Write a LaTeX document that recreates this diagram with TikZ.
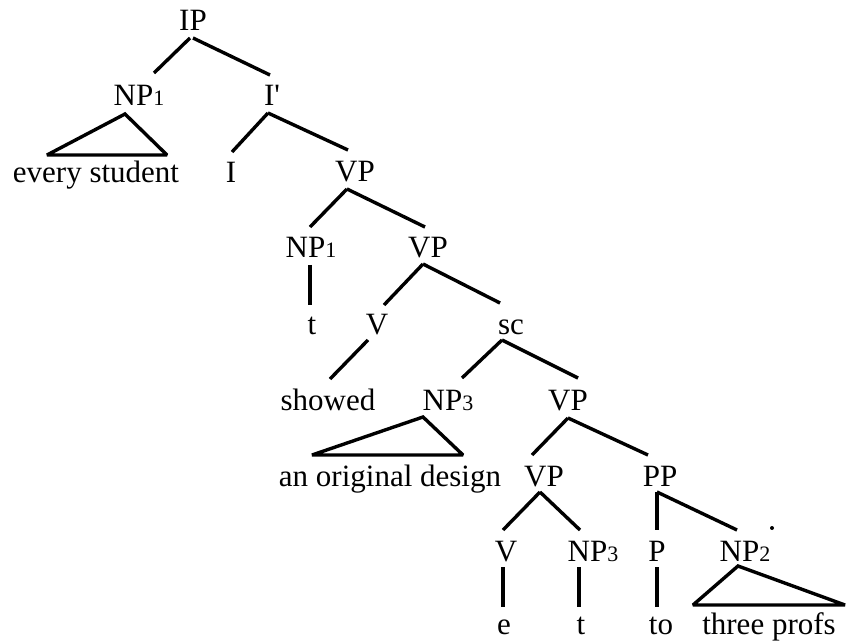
\documentclass[tikz,border=0pt]{standalone}
\usepackage{fontspec}
\setmainfont{Liberation Serif}
\newcommand\subd[1]{{\fontsize{22}{22}\selectfont #1}}
\begin{document}
\begin{tikzpicture}[x=1pt,y=-1pt,
  lab/.style={anchor=base,inner sep=0pt,font=\fontsize{31}{36}\selectfont},
  edge/.style={line width=3.4pt},
  tri/.style={line width=3.4pt,line join=miter,miter limit=2}]
\useasboundingbox (0,0) rectangle (848,644);
% nodes
\node[lab] (IP) at (193,31) {IP};
\node[lab] (NPa) at (139,106) {NP\subd{1}};
\node[lab] (Ibar) at (272,106) {I\textquotesingle};
\node[lab] (every) at (96,183) {every student};
\node[lab] (I) at (231,183) {I};
\node[lab] (VPa) at (355,182) {VP};
\node[lab] (NPb) at (311,258) {NP\subd{1}};
\node[lab] (VPb) at (428,258) {VP};
\node[lab] (t1) at (312,334) {t};
\node[lab] (Vb) at (377,334) {V};
\node[lab] (sc) at (511,334) {sc};
\node[lab] (showed) at (328,410) {showed};
\node[lab] (NPc) at (448,410) {NP\subd{3}};
\node[lab] (VPc) at (568,410) {VP};
\node[lab] (design) at (390,486) {an original design};
\node[lab] (VPd) at (544,486) {VP};
\node[lab] (PP) at (660,486) {PP};
\node[lab] (Ve) at (506,561) {V};
\node[lab] (NPd) at (593,561) {NP\subd{3}};
\node[lab] (P) at (657,561) {P};
\node[lab] (NPe) at (745,561) {NP\subd{2}};
\node[lab] (e) at (504,634) {e};
\node[lab] (t2) at (581,634) {t};
\node[lab] (to) at (661,634) {to};
\node[lab] (profs) at (769,634) {three profs};
% connectors
\draw[edge] ([shift={(-3,7)}]IP.base) -- ([shift={(15,-33)}]NPa.base);
\draw[edge] ([shift={(0,7)}]IP.base) -- ([shift={(-2,-31)}]Ibar.base);
\draw[tri] ([shift={(-14,8)}]NPa.base) -- ([shift={(-49,-28)}]every.base) -- ([shift={(71,-28)}]every.base) -- cycle;
\draw[edge] ([shift={(-4,7)}]Ibar.base) -- ([shift={(1,-31)}]I.base);
\draw[edge] ([shift={(-4,7)}]Ibar.base) -- ([shift={(-7,-32)}]VPa.base);
\draw[edge] ([shift={(-8,7)}]VPa.base) -- ([shift={(-1,-31)}]NPb.base);
\draw[edge] ([shift={(-8,7)}]VPa.base) -- ([shift={(-3,-31)}]VPb.base);
\draw[edge] ([shift={(-1,7)}]NPb.base) -- ([shift={(-2,-29)}]t1.base);
\draw[edge] ([shift={(-5,6)}]VPb.base) -- ([shift={(7,-29)}]Vb.base);
\draw[edge] ([shift={(-5,6)}]VPb.base) -- ([shift={(-11,-31)}]sc.base);
\draw[edge] ([shift={(-9,6)}]Vb.base) -- ([shift={(2,-31)}]showed.base);
\draw[edge] ([shift={(-9,6)}]sc.base) -- ([shift={(14,-32)}]NPc.base);
\draw[edge] ([shift={(-9,6)}]sc.base) -- ([shift={(10,-32)}]VPc.base);
\draw[tri] ([shift={(-25,7)}]NPc.base) -- ([shift={(-78,-31)}]design.base) -- ([shift={(73,-31)}]design.base) -- cycle;
\draw[edge] ([shift={(0,8)}]VPc.base) -- ([shift={(-12,-31)}]VPd.base);
\draw[edge] ([shift={(0,8)}]VPc.base) -- ([shift={(-12,-31)}]PP.base);
\draw[edge] ([shift={(-4,6)}]VPd.base) -- ([shift={(-3,-31)}]Ve.base);
\draw[edge] ([shift={(-4,6)}]VPd.base) -- ([shift={(-13,-31)}]NPd.base);
\draw[edge] ([shift={(-3,6)}]PP.base) -- ([shift={(0,-31)}]P.base);
\draw[edge] ([shift={(-3,6)}]PP.base) -- ([shift={(-8,-31)}]NPe.base);
\draw[edge] ([shift={(-3,6)}]Ve.base) -- ([shift={(-1,-27)}]e.base);
\draw[edge] ([shift={(-14,6)}]NPd.base) -- ([shift={(-2,-27)}]t2.base);
\draw[edge] ([shift={(0,6)}]P.base) -- ([shift={(-4,-27)}]to.base);
\draw[tri] ([shift={(-7,5)}]NPe.base) -- ([shift={(-76,-29)}]profs.base) -- ([shift={(76,-29)}]profs.base) -- cycle;
\fill ([shift={(27,-33)}]NPe.base) circle (2);
\end{tikzpicture}
\end{document}
